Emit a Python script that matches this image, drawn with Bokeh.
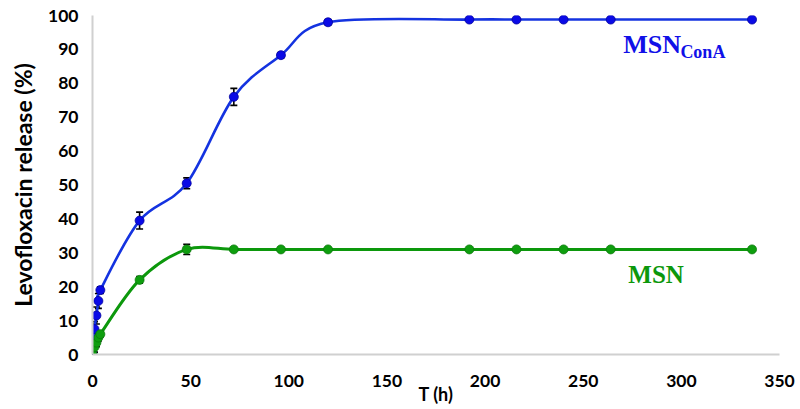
import numpy as np
from bokeh.plotting import figure
from bokeh.models import ColumnDataSource, Whisker, TeeHead, Label, Range1d, FixedTicker
from bokeh.embed import file_html
from bokeh.resources import INLINE

# ---- data ----
t_hours = [0, 1, 2, 3, 4, 24, 48, 72, 96, 120, 192, 216, 240, 264, 336]
msn_cona = [0, 7.5, 11.5, 15.8, 19, 39.5, 50.5, 76, 88.3, 98, 98.8, 98.8, 98.8, 98.8, 98.8]
msn_cona_err = [0, 2.2, 2.5, 2.2, 1.0, 2.5, 1.6, 2.5, 0.8, 0.8, 0.4, 0.4, 0.4, 0.4, 0.4]
msn = [0, 2.2, 3.5, 5.0, 6.0, 22, 31, 31, 31, 31, 31, 31, 31, 31, 31]
msn_err = [0, 1.5, 1.2, 1.0, 0.8, 1.0, 1.5, 0.4, 0.4, 0.4, 0.4, 0.4, 0.4, 0.4, 0.4]
x_ticks = [0, 50, 100, 150, 200, 250, 300, 350]
y_ticks = [0, 10, 20, 30, 40, 50, 60, 70, 80, 90, 100]

BLUE_LINE = "#1433e0"
BLUE_DOT = "#0a0ae6"
GREEN_LINE = "#0c980c"
GREEN_DOT = "#0e9e0e"


def smooth_segments(x, y, k=1.0 / 6.0):
    """Catmull-Rom style Bezier segments (like a spreadsheet 'smoothed line')."""
    x = np.asarray(x, float)
    y = np.asarray(y, float)
    px = np.concatenate([[x[0]], x, [x[-1]]])
    py = np.concatenate([[y[0]], y, [y[-1]]])
    n = len(x)
    d = dict(x0=[], y0=[], x1=[], y1=[], cx0=[], cy0=[], cx1=[], cy1=[])
    for i in range(n - 1):
        p0x, p0y = px[i], py[i]
        p1x, p1y = px[i + 1], py[i + 1]
        p2x, p2y = px[i + 2], py[i + 2]
        p3x, p3y = px[i + 3], py[i + 3]
        d["x0"].append(p1x); d["y0"].append(p1y)
        d["x1"].append(p2x); d["y1"].append(p2y)
        d["cx0"].append(p1x + (p2x - p0x) * k); d["cy0"].append(p1y + (p2y - p0y) * k)
        d["cx1"].append(p2x - (p3x - p1x) * k); d["cy1"].append(p2y - (p3y - p1y) * k)
    return ColumnDataSource(d)


p = figure(width=795, height=407, output_backend="svg", toolbar_location=None,
           x_range=Range1d(0, 350), y_range=Range1d(0, 100),
           min_border_left=92, min_border_right=16, min_border_top=15, min_border_bottom=53)
p.outline_line_color = None
p.xgrid.grid_line_color = None
p.ygrid.grid_line_color = None
p.background_fill_color = "white"

for ax in (p.xaxis[0], p.yaxis[0]):
    ax.axis_line_color = "#d0d0d0"
    ax.axis_line_width = 2
    ax.major_tick_line_color = None
    ax.minor_tick_line_color = None
    ax.major_tick_out = 0
    ax.major_tick_in = 0
    ax.major_label_text_font = "Lato"
    ax.major_label_text_font_style = "bold"
    ax.major_label_text_font_size = "17.5px"
    ax.major_label_text_color = "black"

p.xaxis.ticker = FixedTicker(ticks=x_ticks)
p.yaxis.ticker = FixedTicker(ticks=y_ticks)
p.xaxis.major_label_standoff = 20
p.yaxis.major_label_standoff = 14

p.yaxis.axis_label = "Levofloxacin release (%)"
p.yaxis.axis_label_text_font = "Lato"
p.yaxis.axis_label_text_font_style = "bold"
p.yaxis.axis_label_text_font_size = "23px"
p.yaxis.axis_label_text_color = "black"
p.yaxis.axis_label_standoff = 8

p.xaxis.axis_label = "T (h)"
p.xaxis.axis_label_text_font = "Lato"
p.xaxis.axis_label_text_font_style = "bold"
p.xaxis.axis_label_text_font_size = "18px"
p.xaxis.axis_label_text_color = "black"
p.xaxis.axis_label_standoff = -7

# smoothed lines
p.bezier(x0="x0", y0="y0", x1="x1", y1="y1", cx0="cx0", cy0="cy0", cx1="cx1", cy1="cy1",
         source=smooth_segments(t_hours, msn_cona), line_color=BLUE_LINE, line_width=2.6)
p.bezier(x0="x0", y0="y0", x1="x1", y1="y1", cx0="cx0", cy0="cy0", cx1="cx1", cy1="cy1",
         source=smooth_segments(t_hours, msn), line_color=GREEN_LINE, line_width=3)

src_c = ColumnDataSource(dict(x=t_hours, y=msn_cona,
                              lo=[v - e for v, e in zip(msn_cona, msn_cona_err)],
                              hi=[v + e for v, e in zip(msn_cona, msn_cona_err)]))
src_m = ColumnDataSource(dict(x=t_hours, y=msn,
                              lo=[v - e for v, e in zip(msn, msn_err)],
                              hi=[v + e for v, e in zip(msn, msn_err)]))

p.scatter("x", "y", source=src_c, size=9, fill_color=BLUE_DOT, line_color="#0000a0", line_width=0.8)
p.scatter("x", "y", source=src_m, size=9, fill_color=GREEN_DOT, line_color="#0a7a0a", line_width=0.8)

for src in (src_c, src_m):
    w = Whisker(source=src, base="x", upper="hi", lower="lo",
                line_color="black", line_width=1.6,
                upper_head=TeeHead(size=7, line_color="black", line_width=1.6),
                lower_head=TeeHead(size=7, line_color="black", line_width=1.6))
    p.add_layout(w)

# series labels
p.add_layout(Label(x=270.4, y=91.5, text="MSN", text_font="Liberation Serif",
                   text_font_style="bold", text_font_size="26px", text_color="#1010e8",
                   text_baseline="alphabetic"))
p.add_layout(Label(x=299.5, y=89.1, text="ConA", text_font="Liberation Serif",
                   text_font_style="bold", text_font_size="18px", text_color="#1010e8",
                   text_baseline="alphabetic"))
p.add_layout(Label(x=273, y=23.6, text="MSN", text_font="Liberation Serif",
                   text_font_style="bold", text_font_size="25px", text_color="#0c980c",
                   text_baseline="alphabetic"))

open("out.html", "w").write(file_html(p, INLINE))
